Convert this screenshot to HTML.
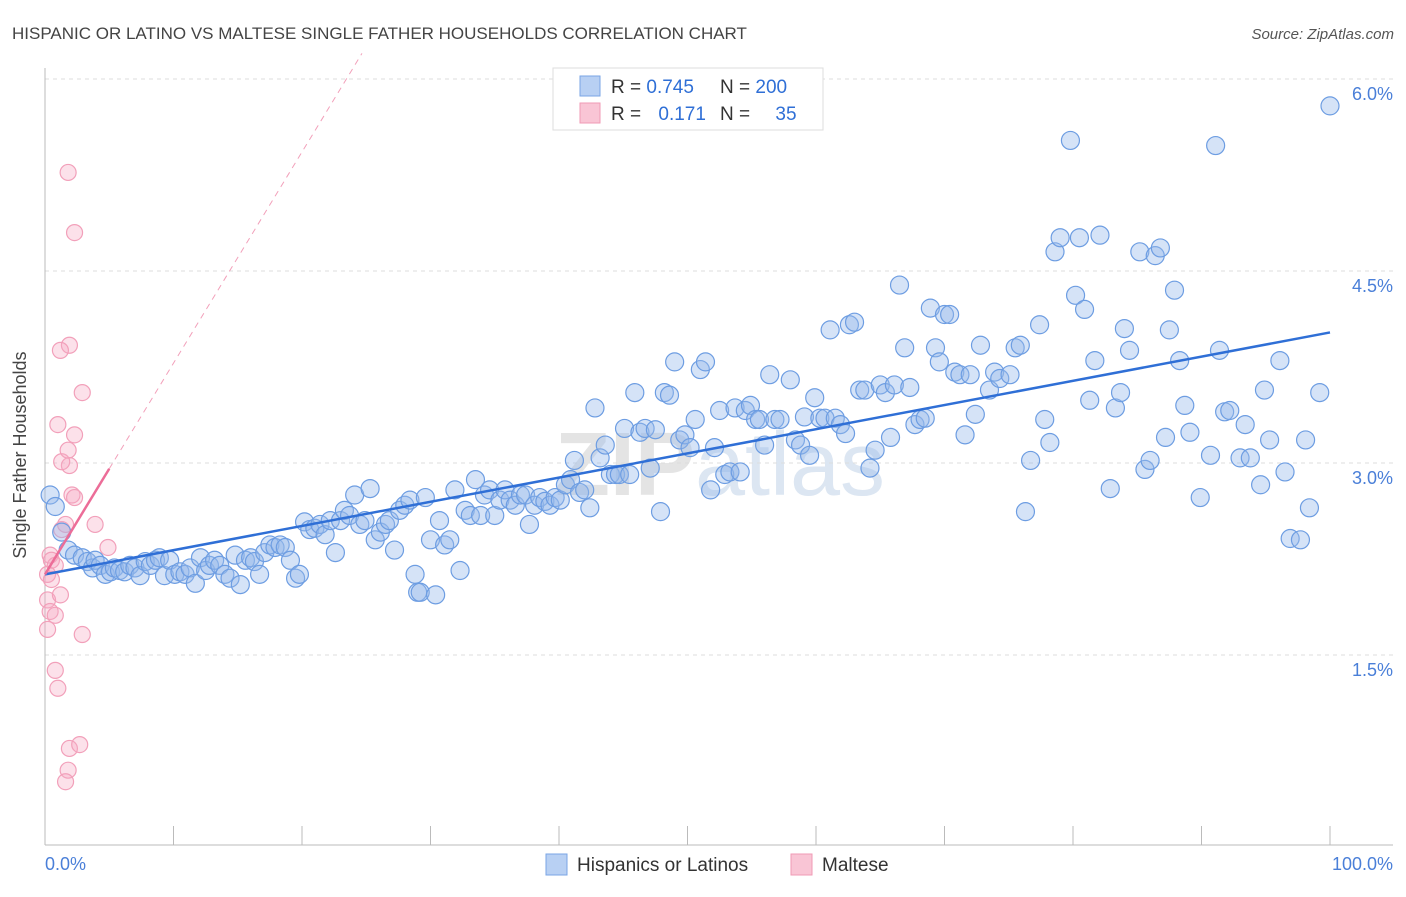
<!DOCTYPE html>
<html><head><meta charset="utf-8"><style>
body{margin:0;background:#fff;font-family:"Liberation Sans",sans-serif;}
svg text{font-family:"Liberation Sans",sans-serif;}
</style></head><body>
<svg id="chart" width="1406" height="892" xmlns="http://www.w3.org/2000/svg">
<text x="12" y="39" font-size="17" fill="#444">HISPANIC OR LATINO VS MALTESE SINGLE FATHER HOUSEHOLDS CORRELATION CHART</text>
<text x="1394" y="39" font-size="15" fill="#555" font-style="italic" text-anchor="end">Source: ZipAtlas.com</text>
<text x="720" y="495" font-size="90" fill="#e4e4e4" text-anchor="middle" font-weight="bold">ZIP<tspan font-weight="normal" fill="#dce6f2">atlas</tspan></text>
<g id="grid"></g>
<g id="axes"></g>
<g id="pinkPts"></g>
<g id="bluePts"></g>
<g id="trends"></g>
<text x="26" y="455" font-size="18" fill="#444" text-anchor="middle" transform="rotate(-90 26 455)">Single Father Households</text>
<text x="45" y="870" font-size="18" fill="#4a7fd8">0.0%</text>
<text x="1393" y="870" font-size="18" fill="#4a7fd8" text-anchor="end">100.0%</text>
<g>
<rect x="553" y="68" width="270" height="62" fill="#fff" stroke="#ddd"/>
<rect x="580" y="76" width="20" height="20" fill="#b8d0f3" stroke="#7aa5e5"/>
<rect x="580" y="103" width="20" height="20" fill="#f9c5d5" stroke="#f09ab5"/>
<text x="611" y="93" font-size="19" fill="#333">R = <tspan fill="#2f6fd6">0.745</tspan></text>
<text x="720" y="93" font-size="19" fill="#333">N = <tspan fill="#2f6fd6">200</tspan></text>
<text x="611" y="120" font-size="19" fill="#333">R = <tspan fill="#2f6fd6" dx="12">0.171</tspan></text>
<text x="720" y="120" font-size="19" fill="#333">N = <tspan fill="#2f6fd6" dx="20">35</tspan></text>
</g>
<g>
<rect x="546" y="854" width="21" height="21" fill="#b8d0f3" stroke="#7aa5e5"/>
<text x="577" y="871" font-size="19" fill="#333">Hispanics or Latinos</text>
<rect x="791" y="854" width="21" height="21" fill="#f9c5d5" stroke="#f09ab5"/>
<text x="822" y="871" font-size="19" fill="#333">Maltese</text>
</g>
</svg>
<script>
const yTicks=[1.5,3.0,4.5,6.0];
const yTickLabels=["1.5%","3.0%","4.5%","6.0%"];
const xTicks=[0,10,20,30,40,50,60,70,80,90,100];
const blueX=[0.4,0.8,1.3,1.8,2.3,2.9,3.3,3.7,3.9,4.3,4.7,5.1,5.4,5.8,6.2,6.6,7.0,7.4,7.8,8.2,8.6,8.9,9.3,9.7,10.1,10.5,10.9,11.3,11.7,12.1,12.5,12.8,13.2,13.6,14.0,14.4,14.8,15.2,15.6,16.0,16.3,16.7,17.1,17.5,17.9,18.3,18.7,19.1,19.5,19.8,20.2,20.6,21.0,21.4,21.8,22.2,22.6,23.0,23.3,23.7,24.1,24.5,24.9,25.3,25.7,26.1,26.5,26.8,27.2,27.6,28.0,28.4,28.8,29.0,29.2,29.6,30.0,30.4,30.7,31.1,31.5,31.9,32.3,32.7,33.1,33.5,33.9,34.2,34.6,35.0,35.4,35.8,36.2,36.6,37.0,37.4,37.7,38.1,38.5,38.9,39.3,39.7,40.1,40.5,40.9,41.2,41.6,42.0,42.4,42.8,43.2,43.6,44.0,44.4,44.7,45.1,45.5,45.9,46.3,46.7,47.1,47.5,47.9,48.2,48.6,49.0,49.4,49.8,50.2,50.6,51.0,51.4,51.8,52.1,52.5,52.9,53.3,53.7,54.1,54.5,54.9,55.3,55.6,56.0,56.4,56.8,57.2,58.0,58.4,58.8,59.1,59.5,59.9,60.3,60.7,61.1,61.5,61.9,62.3,62.6,63.0,63.4,63.8,64.2,64.6,65.0,65.4,65.8,66.1,66.5,66.9,67.3,67.7,68.1,68.5,68.9,69.3,69.6,70.0,70.4,70.8,71.2,71.6,72.0,72.4,72.8,73.5,73.9,74.3,75.1,75.5,75.9,76.3,76.7,77.4,77.8,78.2,78.6,79.0,79.8,80.2,80.5,80.9,81.3,81.7,82.1,82.9,83.3,83.7,84.0,84.4,85.2,85.6,86.0,86.4,86.8,87.2,87.5,87.9,88.3,88.7,89.1,89.9,90.7,91.1,91.4,91.8,92.2,93.0,93.4,93.8,94.6,94.9,95.3,96.1,96.5,96.9,97.7,98.1,98.4,99.2,100];
const blueY=[2.75,2.66,2.46,2.32,2.28,2.26,2.23,2.18,2.24,2.20,2.13,2.15,2.18,2.16,2.15,2.20,2.18,2.12,2.23,2.20,2.24,2.26,2.12,2.24,2.13,2.15,2.13,2.18,2.06,2.26,2.16,2.20,2.24,2.20,2.13,2.10,2.28,2.05,2.24,2.26,2.23,2.13,2.30,2.36,2.34,2.36,2.34,2.24,2.10,2.13,2.54,2.48,2.49,2.52,2.44,2.55,2.30,2.55,2.63,2.59,2.75,2.52,2.55,2.80,2.40,2.46,2.52,2.55,2.32,2.63,2.67,2.71,2.13,1.99,1.99,2.73,2.40,1.97,2.55,2.36,2.40,2.79,2.16,2.63,2.59,2.87,2.59,2.75,2.79,2.59,2.71,2.79,2.71,2.67,2.75,2.75,2.52,2.67,2.73,2.70,2.67,2.73,2.71,2.83,2.87,3.02,2.77,2.79,2.65,3.43,3.04,3.14,2.91,2.91,2.91,3.27,2.91,3.55,3.24,3.27,2.96,3.26,2.62,3.55,3.53,3.79,3.18,3.22,3.12,3.34,3.73,3.79,2.79,3.12,3.41,2.91,2.93,3.43,2.93,3.41,3.45,3.34,3.34,3.14,3.69,3.34,3.34,3.65,3.18,3.14,3.36,3.06,3.51,3.35,3.35,4.04,3.35,3.30,3.23,4.08,4.10,3.57,3.57,2.96,3.10,3.61,3.55,3.20,3.61,4.39,3.90,3.59,3.30,3.34,3.35,4.21,3.90,3.79,4.16,4.16,3.71,3.69,3.22,3.69,3.38,3.92,3.57,3.71,3.66,3.69,3.90,3.92,2.62,3.02,4.08,3.34,3.16,4.65,4.76,5.52,4.31,4.76,4.20,3.49,3.80,4.78,2.80,3.43,3.55,4.05,3.88,4.65,2.95,3.02,4.62,4.68,3.20,4.04,4.35,3.80,3.45,3.24,2.73,3.06,5.48,3.88,3.40,3.41,3.04,3.30,3.04,2.83,3.57,3.18,3.80,2.93,2.41,2.40,3.18,2.65,3.55,5.79];
const pinkX=[0.4,0.5,0.8,0.2,0.4,0.8,1.2,0.2,0.8,1.0,1.3,1.6,1.9,2.1,2.3,2.3,1.9,1.2,1.0,1.3,1.8,1.8,2.3,2.9,3.9,4.9,2.9,1.9,2.7,1.8,1.6,0.2,0.5];
const pinkY=[2.28,2.24,2.20,1.93,1.84,1.81,1.97,1.70,1.38,1.24,2.48,2.52,2.98,2.75,2.73,3.22,3.92,3.88,3.30,3.01,3.10,5.27,4.80,3.55,2.52,2.34,1.66,0.77,0.80,0.60,0.51,2.13,2.09];
const blueTrend=[2.13,4.02];
const pinkTrend=[2.13,0.165];
const NS="http://www.w3.org/2000/svg";
const X=v=>45+v*12.85, Y=v=>847-v*128;
function mk(tag,attrs,parent){const e=document.createElementNS(NS,tag);for(const k in attrs)e.setAttribute(k,attrs[k]);parent.appendChild(e);return e;}
const grid=document.getElementById('grid'),axes=document.getElementById('axes');
yTicks.forEach((t,i)=>{
 const l=mk('line',{x1:45,x2:1393,y1:Y(t),y2:Y(t),stroke:'#ddd','stroke-dasharray':'4,4'},grid);
 
 
 const tx=mk('text',{x:1393,y:Y(t)+21,'font-size':18,fill:'#4a7fd8','text-anchor':'end'},grid);
 tx.textContent=yTickLabels[i];
 
 
});
const xa=mk('line',{x1:45,x2:1393,y1:845,y2:845,stroke:'#bbb'},axes);


const ya=mk('line',{x1:45,x2:45,y1:68,y2:845,stroke:'#bbb'},axes);


xTicks.forEach(t=>{
 const l=mk('line',{x1:X(t),x2:X(t),y1:826,y2:845,stroke:'#bbb'},axes);
 
 
});
const pg=document.getElementById('pinkPts');
pinkX.forEach((x,i)=>{
 const c=mk('circle',{cx:X(x),cy:Y(pinkY[i]),r:8,fill:'rgba(246,170,195,0.35)',stroke:'#f2a0ba','stroke-width':1.2},pg);
 
 
});
const bg=document.getElementById('bluePts');
blueX.forEach((x,i)=>{
 const c=mk('circle',{cx:X(x),cy:Y(blueY[i]),r:9,fill:'rgba(150,185,235,0.4)',stroke:'#6d9de2','stroke-width':1.2},bg);
 
 
});
const tg=document.getElementById('trends');
const bt=mk('line',{x1:X(0),y1:Y(blueTrend[0]),x2:X(100),y2:Y(blueTrend[1]),stroke:'#2f6fd6','stroke-width':2.5},tg);


const xEnd=(6.2-pinkTrend[0])/pinkTrend[1];
const pd=mk('line',{x1:X(5),y1:Y(pinkTrend[0]+5*pinkTrend[1]),x2:X(xEnd),y2:Y(6.2),stroke:'#f2a0ba','stroke-width':1,'stroke-dasharray':'6,5'},tg);


const ps=mk('line',{x1:X(0),y1:Y(pinkTrend[0]),x2:X(5),y2:Y(pinkTrend[0]+5*pinkTrend[1]),stroke:'#ec6d98','stroke-width':2.5},tg);


</script>
</body></html>
